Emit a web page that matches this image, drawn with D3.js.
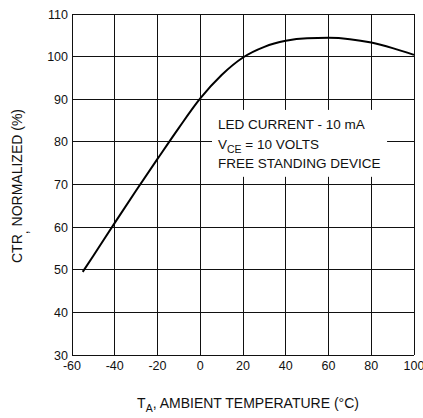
<!DOCTYPE html>
<html><head><meta charset="utf-8">
<script src="https://cdn.jsdelivr.net/npm/d3@7"></script>
<style>
html,body{margin:0;padding:0;background:#fff;}
svg{display:block;font-family:"Liberation Sans",Arial,sans-serif;}
</style></head>
<body>
<svg id="c" width="423" height="418"></svg>
<script>
const temps = [-55,-50,-40,-30,-20,-10,0,10,20,30,40,50,60,70,80,90,100];
const ctr   = [49.5,53.3,61,68.6,76,83.3,90.2,95.7,99.8,102.3,103.7,104.3,104.4,104.1,103.3,102,100.4];
const xTicks = [-60,-40,-20,0,20,40,60,80,100];
const yTicks = [30,40,50,60,70,80,90,100,110];
const notes = ["LED CURRENT - 10 mA","V|CE| = 10 VOLTS","FREE STANDING DEVICE"];

const svg = d3.select("#c");
const x = d3.scaleLinear().domain([-60,100]).range([72,414]);
const y = d3.scaleLinear().domain([30,110]).range([355,14]);

const g = svg.append("g");
// grid
g.selectAll("line.v").data(xTicks).join("line")
  .attr("x1",d=>x(d)).attr("x2",d=>x(d)).attr("y1",y(30)).attr("y2",y(110))
  .attr("stroke","#111").attr("stroke-width",1).attr("shape-rendering","crispEdges");
g.selectAll("line.h").data(yTicks).join("line")
  .attr("x1",x(-60)).attr("x2",x(100)).attr("y1",d=>y(d)).attr("y2",d=>y(d))
  .attr("stroke","#111").attr("stroke-width",1).attr("shape-rendering","crispEdges");

// annotation box (white, masking the grid)
g.append("rect").attr("x",x(5.5)).attr("y",y(87.5))
  .attr("width",x(87.4)-x(5.5)).attr("height",y(71.8)-y(87.5)).attr("fill","#fff");

// curve
const pts = temps.map((t,i)=>[t,ctr[i]]);
g.append("path").datum(pts)
  .attr("d",d3.line().x(d=>x(d[0])).y(d=>y(d[1])).curve(d3.curveMonotoneX))
  .attr("fill","none").attr("stroke","#000").attr("stroke-width",2);

// tick labels
svg.append("g").selectAll("text").data(yTicks).join("text")
  .attr("x",68).attr("y",d=>y(d)).attr("dy","0.36em").attr("text-anchor","end")
  .attr("font-size","12.5px").attr("fill","#111").text(d=>d);
svg.append("g").selectAll("text").data(xTicks).join("text")
  .attr("x",d=>x(d)).attr("y",370).attr("text-anchor","middle")
  .attr("font-size","12.5px").attr("fill","#111").text(d=>d);

// annotation text
const ann = svg.append("g").attr("font-size","13.5px").attr("fill","#111");
notes.forEach((n,i)=>{
  const t = ann.append("text").attr("x",218).attr("y",129+i*19.5);
  const parts = n.split("|");
  parts.forEach((p,j)=>{
    const s = t.append("tspan").text(p);
    if(j===1){ s.attr("font-size","10.5px").attr("dy",4); }
    if(j===2){ s.attr("dy",-4); }
  });
});

// x title
const xt = svg.append("text").attr("x",248).attr("y",408).attr("text-anchor","middle")
  .attr("font-size","14px").attr("fill","#111");
xt.append("tspan").text("T");
xt.append("tspan").attr("font-size","10.5px").attr("dy",4).text("A");
xt.append("tspan").attr("dy",-4).text(", AMBIENT TEMPERATURE (°C)");

// y title
const yt = svg.append("text").attr("transform","translate(22,186) rotate(-90)")
  .attr("text-anchor","middle").attr("font-size","14px").attr("fill","#111");
yt.append("tspan").text("CTR");
yt.append("tspan").attr("dy",6).text(",");
yt.append("tspan").attr("dy",-6).text(" NORMALIZED (%)");
</script>
</body></html>
